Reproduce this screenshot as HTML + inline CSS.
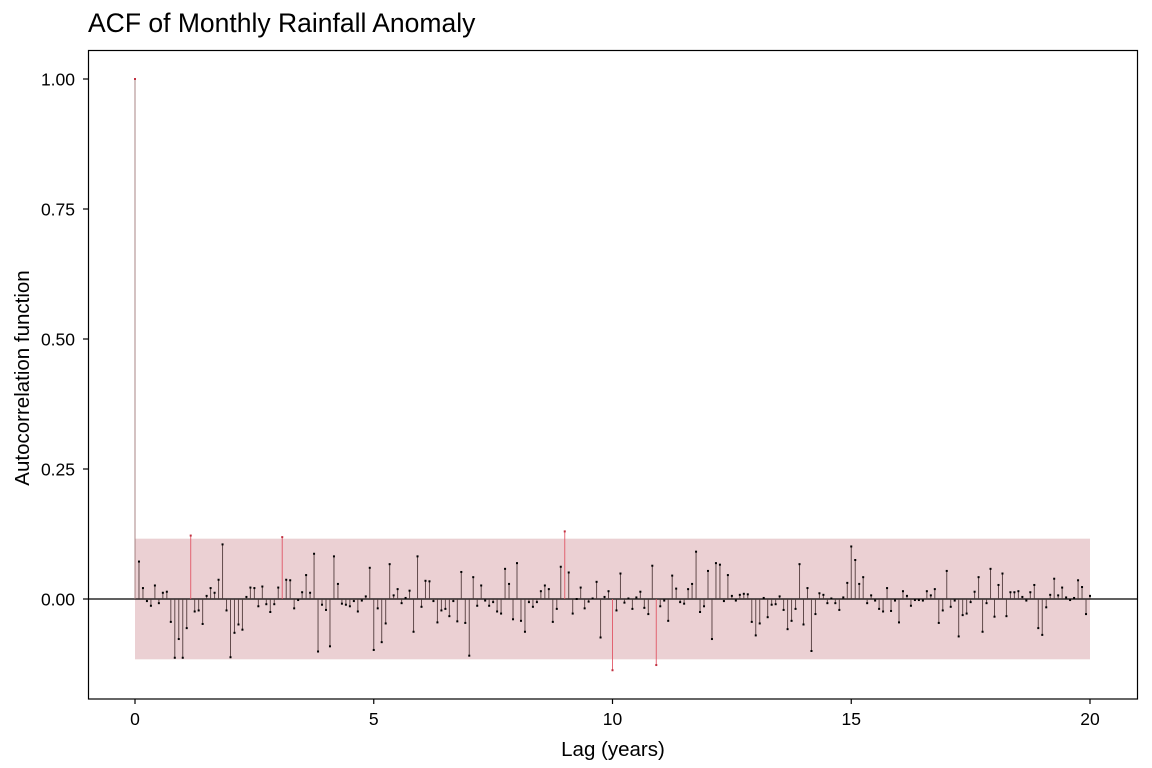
<!DOCTYPE html>
<html><head><meta charset="utf-8"><style>
html,body{margin:0;padding:0;background:#fff;}
svg{display:block;font-family:"Liberation Sans",Arial,sans-serif;}
</style></head><body>
<svg id="chart" width="1152" height="768" viewBox="0 0 1152 768">
<text x="88" y="32" font-size="26.5" fill="#000">ACF of Monthly Rainfall Anomaly</text>
<g id="plot"></g>
<rect x="88.5" y="50.5" width="1049" height="648.5" fill="none" stroke="#000" stroke-width="1.2"/>
<g id="axes"></g>
<text x="613" y="756" font-size="20.5" text-anchor="middle">Lag (years)</text>
<text transform="translate(29,378) rotate(-90)" font-size="20.5" text-anchor="middle">Autocorrelation function</text>
</svg>
<script>
const acfValues = [1.0,0.072,0.021,-0.004,-0.013,0.026,-0.008,0.012,0.014,-0.044,-0.113,-0.077,-0.113,-0.056,0.122,-0.024,-0.022,-0.048,0.006,0.021,0.012,0.037,0.105,-0.022,-0.112,-0.065,-0.049,-0.059,0.004,0.022,0.021,-0.014,0.024,-0.010,-0.025,-0.010,0.022,0.119,0.037,0.036,-0.018,-0.002,0.013,0.046,0.012,0.087,-0.101,-0.011,-0.021,
-0.091,0.082,0.029,-0.009,-0.011,-0.014,-0.004,-0.024,-0.003,0.005,0.060,-0.098,-0.018,-0.083,-0.047,0.067,0.007,0.019,-0.008,0.002,0.016,-0.063,0.082,-0.015,0.035,0.034,-0.004,-0.045,-0.022,-0.019,-0.033,-0.004,-0.043,0.052,-0.046,-0.109,0.042,-0.013,0.026,-0.003,-0.013,-0.006,-0.024,-0.028,0.058,0.029,-0.039,0.069,-0.042,
-0.063,-0.006,-0.015,-0.006,0.015,0.026,0.019,-0.044,-0.019,0.062,0.130,0.051,-0.028,0.0,0.022,-0.018,-0.005,0.001,0.033,-0.074,0.004,0.015,-0.137,-0.022,0.049,-0.007,0.001,-0.019,0.003,0.014,-0.017,-0.029,0.064,-0.127,-0.014,-0.003,-0.042,0.045,0.020,-0.006,-0.009,0.019,0.029,0.091,-0.025,-0.014,0.054,-0.077,0.069,
0.066,-0.004,0.046,0.006,-0.003,0.008,0.010,0.009,-0.044,-0.070,-0.047,0.002,-0.035,-0.011,-0.010,0.005,-0.021,-0.058,-0.042,-0.019,0.067,-0.049,0.021,-0.100,-0.029,0.011,0.008,-0.008,0.001,-0.008,-0.021,0.003,0.031,0.101,0.075,0.029,0.042,-0.008,0.007,-0.003,-0.019,-0.024,0.021,-0.023,-0.003,-0.045,0.015,0.006,-0.013,
-0.002,-0.002,-0.003,0.015,0.007,0.019,-0.046,-0.022,0.054,-0.015,-0.003,-0.072,-0.031,-0.028,-0.006,0.014,0.042,-0.063,-0.008,0.058,-0.034,0.027,0.049,-0.033,0.013,0.013,0.015,0.004,-0.003,0.013,0.027,-0.056,-0.069,-0.016,0.008,0.039,0.007,0.022,0.003,-0.002,0.002,0.036,0.023,-0.029,0.006];
const confBound = [0.116];
const xTicks = [0,5,10,15,20];
const yTicks = [0,0.25,0.5,0.75,1.0];
const yTickLabels = ["0.00","0.25","0.50","0.75","1.00"];
const monthsPerYear = 12;

const NS="http://www.w3.org/2000/svg";
const xs = v => 135 + v*47.75;
const ys = v => 599 - v*520;
const plot = document.getElementById('plot');
const axes = document.getElementById('axes');
function mk(tag, attrs, parent){const e=document.createElementNS(NS,tag);for(const k in attrs)e.setAttribute(k,attrs[k]);parent.appendChild(e);return e;}

const maxLag = (acfValues.length-1)/monthsPerYear;
const band = mk('rect',{x:xs(0),y:ys(confBound[0]),width:xs(maxLag)-xs(0),height:ys(-confBound[0])-ys(confBound[0]),fill:'#ebd0d3'},plot);


const zl = mk('line',{x1:89,x2:1138,y1:ys(0),y2:ys(0),stroke:'#000','stroke-width':1.2},plot);



acfValues.forEach((v,i)=>{
  const x = xs(i/monthsPerYear);
  const out = Math.abs(v) > confBound[0];
  const col = i===0 ? '#9a7070' : (out ? '#e0505f' : '#4a3434');
  const s = mk('line',{x1:x,x2:x,y1:ys(0),y2:ys(v),stroke:col,'stroke-width':1,'stroke-opacity':0.85},plot);
  
  
  const p = mk('rect',{x:x-1,y:ys(v)-1,width:2,height:2,fill:out||i===0?'#c03040':'#000'},plot);
  
  
});

xTicks.forEach((t,i)=>{
  const x=xs(t);
  const tk=mk('line',{x1:x,x2:x,y1:699,y2:704,stroke:'#000','stroke-width':1.2},axes);
  
  
  const tl=mk('text',{x:x,y:725,'font-size':17.5,'text-anchor':'middle'},axes);
  tl.textContent=String(t);
  
  
});
yTicks.forEach((t,i)=>{
  const y=ys(t);
  const tk=mk('line',{x1:83,x2:88,y1:y,y2:y,stroke:'#000','stroke-width':1.2},axes);
  
  
  const tl=mk('text',{x:75,y:y+6.5,'font-size':17.5,'text-anchor':'end'},axes);
  tl.textContent=yTickLabels[i];
  
  
});
</script>
</body></html>
